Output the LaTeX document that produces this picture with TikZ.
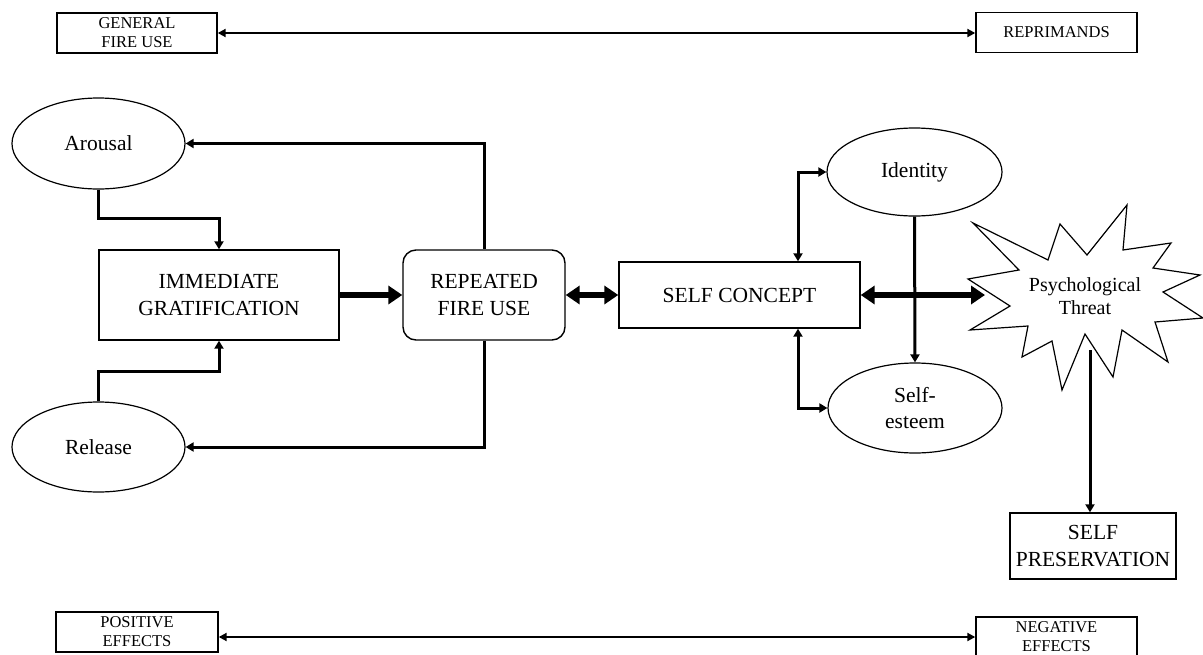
\documentclass[tikz,border=0pt]{standalone}
\usepackage{fontspec}
\setmainfont{Liberation Serif}
\usetikzlibrary{shapes.geometric,arrows.meta}
\begin{document}
\begin{tikzpicture}[x=1pt,y=-1pt,
  box/.style={draw,line width=1.4pt,inner sep=0pt,align=center},
  bigtxt/.style={font=\fontsize{21.5}{26.5}\selectfont},
  smalltxt/.style={font=\fontsize{16.5}{19}\selectfont},
  oval/.style={ellipse,draw,line width=1.2pt,inner sep=0pt,align=center,font=\fontsize{21.5}{26.5}\selectfont},
  thinarrow/.style={line width=3pt,-{Triangle[length=8pt,width=9pt]}},
  thinboth/.style={line width=3pt,{Triangle[length=8pt,width=9pt]}-{Triangle[length=8pt,width=9pt]}},
  longboth/.style={line width=2.4pt,{Triangle[length=8pt,width=8pt]}-{Triangle[length=8pt,width=8pt]}},
  thickarrow/.style={line width=6.5pt,-{Triangle[length=14pt,width=18pt]}},
  thickboth/.style={line width=6.5pt,{Triangle[length=14pt,width=18pt]}-{Triangle[length=14pt,width=18pt]}},
]
\useasboundingbox (0,0) rectangle (1203,654);
\fill[white] (0,0) rectangle (1203,654);

% top and bottom boxes
\node[box,smalltxt,minimum width=160pt,minimum height=40pt] (gen) at (137,33) {GENERAL\\FIRE USE};
\node[box,smalltxt,minimum width=161pt,minimum height=40pt] (rep) at (1056.5,32.5) {REPRIMANDS};
\node[box,smalltxt,minimum width=162pt,minimum height=40pt] (pos) at (137,632) {POSITIVE\\EFFECTS};
\node[box,smalltxt,minimum width=161pt,minimum height=40pt] (neg) at (1056.5,637) {NEGATIVE\\EFFECTS};

% ellipses
\node[oval,minimum width=173pt,minimum height=91pt] (arousal) at (98.5,143.5) {Arousal};
\node[oval,minimum width=173pt,minimum height=90pt] (release) at (98.5,447) {Release};
\node[oval,minimum width=175pt,minimum height=88pt] (identity) at (914.5,172) {Identity};
\node[oval,minimum width=174pt,minimum height=90pt] (esteem) at (915,408) {Self-\\esteem};

% main boxes
\node[box,bigtxt,minimum width=240pt,minimum height=90pt] (imm) at (219,295) {IMMEDIATE\\GRATIFICATION};
\node[box,bigtxt,rounded corners=13pt,minimum width=162pt,minimum height=90pt] (rfu) at (484,295) {REPEATED\\FIRE USE};
\node[box,bigtxt,minimum width=241pt,minimum height=66pt] (selfc) at (739.5,295) {SELF CONCEPT};
\node[box,bigtxt,minimum width=166pt,minimum height=66pt] (pres) at (1093,546) {SELF\\PRESERVATION};

% starburst
\draw[line width=1.2pt,fill=white] (973,223) -- (1048,260) -- (1060,224) -- (1087,255) -- (1127,205) -- (1123,250)
  -- (1171,243) -- (1153,268) -- (1200,275) -- (1163,292) -- (1203,318) -- (1155,322) -- (1168,362)
  -- (1122,330) -- (1113,377) -- (1085,334) -- (1062,390) -- (1052,341) -- (1022,357) -- (1028,326)
  -- (970,330) -- (1010,306) -- (968,279) -- (1019,270) -- cycle;
\node[align=center,inner sep=0pt,font=\fontsize{20}{22.5}\selectfont] (threat) at (1085,296) {Psychological\\Threat};
\coordinate (threatW) at (985,295);
\coordinate (threatS) at (1090,350);

% helper levels
\coordinate (aT) at (0,218);
\coordinate (rT) at (0,371);
\coordinate (sx) at (798,0);

% connectors
\draw[longboth] (gen.east) -- (gen.east -| rep.west);
\draw[longboth] (pos.east |- neg.west) -- (neg.west);

\draw[thinarrow] (arousal.south) -- (arousal.south |- aT) -| (imm.north);
\draw[thinarrow] (release.north) -- (release.north |- rT) -| (imm.south);
\draw[thinarrow] (rfu.north) |- (arousal.east);
\draw[thinarrow] (rfu.south) |- (release.east);

\draw[thickarrow] (imm.east) -- (rfu.west);
\draw[thickboth] (rfu.east) -- (selfc.west);
\draw[thickboth] (selfc.east) -- (threatW);

\draw[thinboth] (sx |- selfc.north) |- (identity.west);
\draw[thinboth] (sx |- selfc.south) |- (esteem.west);
\draw[thinarrow] (identity.south) -- (esteem.north);
\draw[thinarrow] (threatS) -- (threatS |- pres.north);
\end{tikzpicture}
\end{document}
